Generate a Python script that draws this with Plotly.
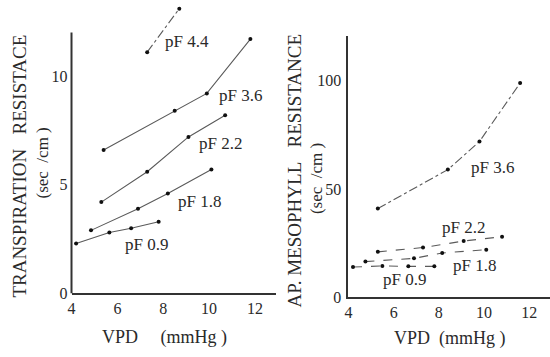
import plotly.graph_objects as go

# ---- data ----
vpd_l_44 = [7.3, 8.7]
tr_44 = [11.1, 13.1]
vpd_l_36 = [5.4, 8.5, 9.9, 11.8]
tr_36 = [6.6, 8.4, 9.2, 11.7]
vpd_l_22 = [5.3, 7.3, 9.1, 10.7]
tr_22 = [4.2, 5.6, 7.2, 8.2]
vpd_l_18 = [4.85, 6.9, 8.2, 10.1]
tr_18 = [2.9, 3.9, 4.6, 5.7]
vpd_l_09 = [4.2, 5.65, 6.6, 7.8]
tr_09 = [2.3, 2.8, 3.0, 3.3]

vpd_r_36 = [5.3, 8.4, 9.8, 11.6]
ms_36 = [41, 59, 72, 99]
vpd_r_22 = [5.3, 7.3, 9.1, 10.8]
ms_22 = [21, 23, 26, 28]
vpd_r_18 = [4.75, 6.9, 8.15, 10.1]
ms_18 = [16.5, 18, 20.5, 22]
vpd_r_09 = [4.2, 5.5, 6.65, 7.8]
ms_09 = [14, 14.5, 14.3, 14.3]

left_series = [("pF 4.4", vpd_l_44, tr_44, "dashdot", 9.02, 11.57),
               ("pF 3.6", vpd_l_36, tr_36, "solid", 11.36, 9.1),
               ("pF 2.2", vpd_l_22, tr_22, "solid", 10.49, 6.9),
               ("pF 1.8", vpd_l_18, tr_18, "solid", 9.58, 4.22),
               ("pF 0.9", vpd_l_09, tr_09, "solid", 7.25, 2.24)]
right_series = [("pF 3.6", vpd_r_36, ms_36, "dashdot", 10.36, 59.9),
                ("pF 2.2", vpd_r_22, ms_22, "dash", 9.09, 32.4),
                ("pF 1.8", vpd_r_18, ms_18, "dash", 9.57, 14.9),
                ("pF 0.9", vpd_r_09, ms_09, "dash", 6.46, 8.1)]

x_ticks = [4, 6, 8, 10, 12]
left_y_ticks = [0, 5, 10]
right_y_ticks = [0, 50, 100]

FONT = "Liberation Serif, Times New Roman, serif"
INK = "#2a2a2a"
LINE = "#5a5a5a"

fig = go.Figure()
annotations = []
for name, xs, ys, dash, lx, ly in left_series:
    fig.add_trace(go.Scatter(x=xs, y=ys, mode="lines+markers", xaxis="x", yaxis="y",
                             line=dict(color=LINE, width=1.1, dash=dash),
                             marker=dict(color="#111", size=4), showlegend=False))
    annotations.append(dict(x=lx, y=ly, xref="x", yref="y", text=name, showarrow=False,
                            xanchor="center", yanchor="middle",
                            font=dict(family=FONT, size=17, color=INK)))
for name, xs, ys, dash, lx, ly in right_series:
    fig.add_trace(go.Scatter(x=xs, y=ys, mode="lines+markers", xaxis="x2", yaxis="y2",
                             line=dict(color=LINE, width=1.1, dash=dash),
                             marker=dict(color="#111", size=4), showlegend=False))
    annotations.append(dict(x=lx, y=ly, xref="x2", yref="y2", text=name, showarrow=False,
                            xanchor="center", yanchor="middle",
                            font=dict(family=FONT, size=17, color=INK)))

W, H = 550, 357
def px(v):
    return v / W
def py(v):
    return 1 - v / H

tickfont = dict(family=FONT, size=16, color=INK)

def title(x, y, text, size, angle=0):
    return dict(x=px(x), y=py(y), xref="paper", yref="paper", text=text, textangle=angle,
                xanchor="center", yanchor="middle", showarrow=False,
                font=dict(family=FONT, size=size, color=INK))

NB = "\u00a0"
# axis titles
annotations += [
    title(162, 346, "VPD" + NB * 5 + "(mmHg" + NB + ")", 18),
    title(449, 347, "VPD" + NB * 2 + "(mmHg" + NB + ")", 18),
    title(16, 170, "TRANSPIRATION" + NB * 3 + "RESISTACE", 19, -90),
    title(39, 167, "(sec" + NB * 2 + "/cm" + NB + ")", 17, -90),
    title(293, 175, "AP." + NB + "MESOPHYLL" + NB * 3 + "RESISTANCE", 19, -90),
    title(315, 183, "(sec" + NB * 2 + "/cm" + NB + ")", 17, -90),
]

fig.update_layout(
    width=W, height=H, margin=dict(l=0, r=0, t=0, b=0),
    paper_bgcolor="white", plot_bgcolor="white",
    annotations=annotations,
    xaxis=dict(domain=[px(68), px(273.6)], range=[4, 12.9], tickvals=x_ticks,
               showline=True, linecolor="#333", linewidth=1.5, showgrid=False, zeroline=False,
               ticks="", tickfont=tickfont, anchor="y"),
    yaxis=dict(domain=[py(301), py(2.2)], range=[0, 13.4], tickvals=left_y_ticks,
               showline=False, showgrid=False, zeroline=False, ticks="",
               tickfont=tickfont, anchor="x", ticklabelstandoff=3),
    xaxis2=dict(domain=[px(347), px(549.5)], range=[4, 12.9], tickvals=x_ticks,
                showline=True, linecolor="#333", linewidth=1.5, showgrid=False, zeroline=False,
                ticks="", tickfont=tickfont, anchor="y2"),
    yaxis2=dict(domain=[py(305), py(37)], range=[0, 120.7], tickvals=right_y_ticks,
                showline=True, linecolor="#333", linewidth=2, showgrid=False, zeroline=False,
                ticks="", tickfont=tickfont, anchor="x2", ticklabelstandoff=2),
    shapes=[dict(type="line", xref="x domain", yref="y", x0=0, x1=0, y0=0, y1=12,
                 line=dict(color="#333", width=2))],
)

fig.write_html("out.html")
